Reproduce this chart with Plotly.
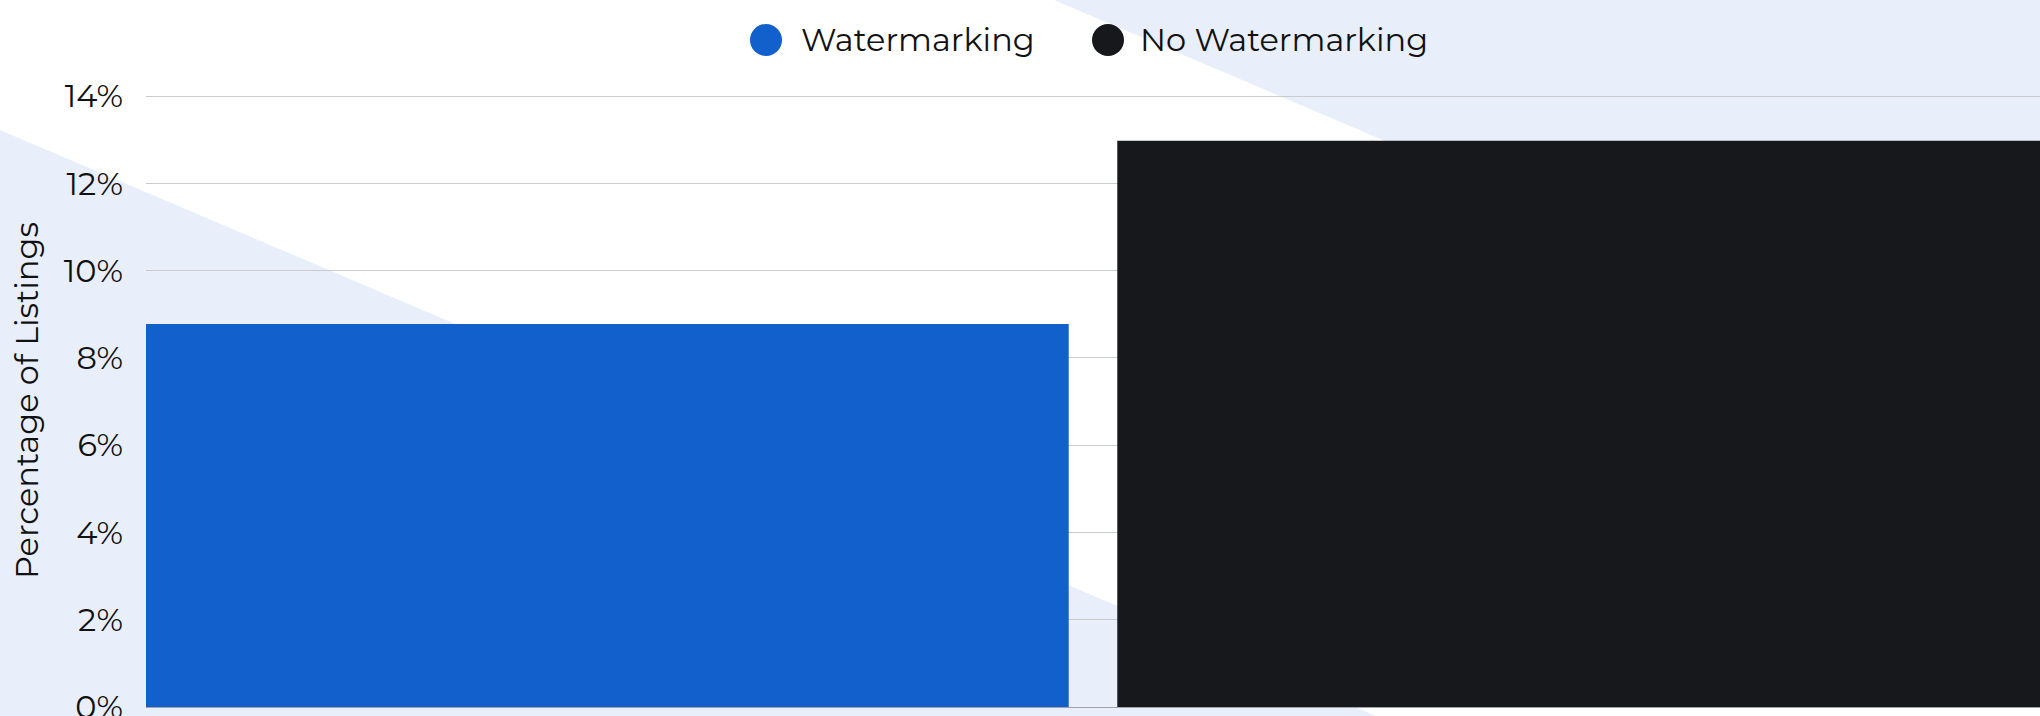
import plotly.graph_objects as go

categories = ["Watermarking", "No Watermarking"]
values = [8.78, 12.98]
colors = ["#1260CC", "#17181C"]
tick_vals = [0, 2, 4, 6, 8, 10, 12, 14]
tick_text = ["0%", "2%", "4%", "6%", "8%", "10%", "12%", "14%"]

W, H = 2040, 716
ML, MR, MT, MB = 146, 0, 94, 9
PW, PH = W - ML - MR, H - MT - MB
YMAX = 14.05


def px(x):
    return (x - ML) / PW


def py(y):
    return (H - MB - y) / PH


FONT = "Montserrat, Inter, 'Open Sans', sans-serif"

fig = go.Figure()
fig.add_trace(go.Bar(
    x=categories, y=values, marker=dict(color=colors, line=dict(width=0)),
    showlegend=False, hoverinfo="x+y",
))

bg = "#E9EFFA"
s = 586 / 1376
shapes = []
# lower-left band
p1 = [(-20, 130 - 20 * s), (1400, 130 + 1400 * s), (-20, 740)]
# upper-right band
p2 = [(1054 - 30, -30 * s), (2060, (2060 - 1054) * s), (2060, -20)]
for poly in (p1, p2):
    path = "M " + " L ".join(f"{px(a):.5f},{py(b):.5f}" for a, b in poly) + " Z"
    shapes.append(dict(type="path", path=path, xref="paper", yref="paper",
                       fillcolor=bg, line=dict(width=0), layer="below"))

# custom legend
legend_pos = [(766, 799), (1108, 1138)]
annotations = []
for (cx, tx), name, col in zip(legend_pos, categories, colors):
    shapes.append(dict(type="circle", xref="paper", yref="paper",
                       x0=px(cx - 16), x1=px(cx + 16), y0=py(40 + 16), y1=py(40 - 16),
                       fillcolor=col, line=dict(width=0), layer="above"))
    annotations.append(dict(text=name, xref="paper", yref="paper", x=px(tx), y=py(40),
                            xanchor="left", yanchor="middle", showarrow=False,
                            font=dict(family=FONT, size=32, color="#111111")))

fig.update_layout(
    width=W, height=H,
    margin=dict(l=ML, r=MR, t=MT, b=MB, pad=0, autoexpand=False),
    paper_bgcolor="white", plot_bgcolor="rgba(0,0,0,0)",
    bargap=0.05, shapes=shapes, annotations=annotations,
    font=dict(family=FONT, size=32, color="#111111"),
    showlegend=False,
)
fig.update_xaxes(range=[-0.475, 1.475], showticklabels=False, showgrid=False,
                 zeroline=False, showline=False, ticks="", automargin=False)
fig.update_yaxes(range=[0, YMAX], tickvals=tick_vals, ticktext=tick_text,
                 gridcolor="#C9CBCF", gridwidth=1, zeroline=True, zerolinecolor="#A0A4AA",
                 zerolinewidth=1, showline=False, ticks="", ticklabelstandoff=22,
                 ticklabeloverflow="allow", automargin=False,
                 tickfont=dict(family=FONT, size=32, color="#111111"),
                 title=dict(text="Percentage of Listings",
                            font=dict(family=FONT, size=32, color="#111111")))

fig.write_html("out.html")
